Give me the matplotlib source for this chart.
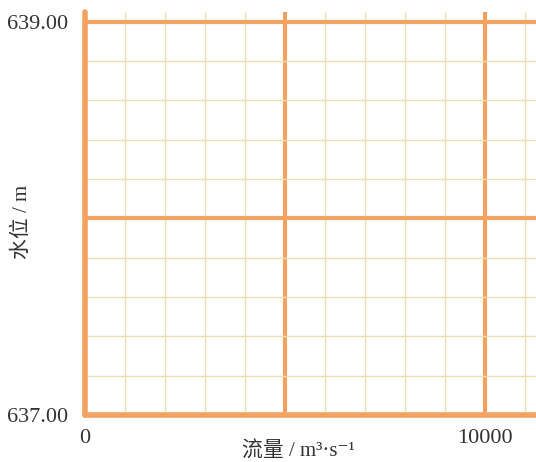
import matplotlib
matplotlib.use("Agg")
from matplotlib import pyplot as plt
from matplotlib.ticker import MultipleLocator, FixedLocator

plt.rcParams['font.family'] = ['Liberation Serif', 'Noto Sans CJK SC', 'DejaVu Serif']

# axis ranges and ticks
x_range = (0, 11275)
y_range = (637.0, 639.05)
x_major = [0, 5000, 10000]
x_labels = ['0', '', '10000']
y_major = [637.0, 638.0, 639.0]
y_labels = ['637.00', '', '639.00']
x_minor_step = 1000
y_minor_step = 0.2

major_color = '#F3A262'
minor_color = '#EEDFB0'

fig = plt.figure(figsize=(5.36, 4.62), dpi=100)
W, H = 536, 462
left, right, top, bottom = 85, 536, 12, 415
ax = fig.add_axes([left / W, 1 - bottom / H, (right - left) / W, (bottom - top) / H])

ax.set_xlim(*x_range)
ax.set_ylim(*y_range)

ax.xaxis.set_major_locator(FixedLocator(x_major))
ax.set_xticklabels(x_labels)
ax.yaxis.set_major_locator(FixedLocator(y_major))
ax.set_yticklabels(y_labels)
ax.xaxis.set_minor_locator(MultipleLocator(x_minor_step))
ax.yaxis.set_minor_locator(MultipleLocator(y_minor_step))

ax.grid(which='minor', color=minor_color, linewidth=1.0)
ax.grid(which='major', color=major_color, linewidth=3.0)
ax.set_axisbelow(True)

ax.tick_params(which='both', length=0)
ax.tick_params(axis='y', pad=12, labelsize=16, labelcolor='#333333')
ax.tick_params(axis='x', pad=10, labelsize=16, labelcolor='#333333')

for s in ['top', 'right']:
    ax.spines[s].set_visible(False)
for s in ['left', 'bottom']:
    ax.spines[s].set_color(major_color)
    ax.spines[s].set_linewidth(4.0)
    ax.spines[s].set_capstyle('round')

ax.set_xlabel('流量 / m³·s⁻¹', fontsize=15, color='#333333')
ax.xaxis.set_label_coords((298 - left) / (right - left), -(452 - bottom) / (bottom - top))
ax.xaxis.label.set_va('center')
ax.set_ylabel('水位 / m', fontsize=15, color='#333333')
ax.yaxis.set_label_coords((22 - left) / (right - left), (bottom - 222) / (bottom - top))
ax.yaxis.label.set_va('center')

fig.savefig('out.png', dpi=100)
